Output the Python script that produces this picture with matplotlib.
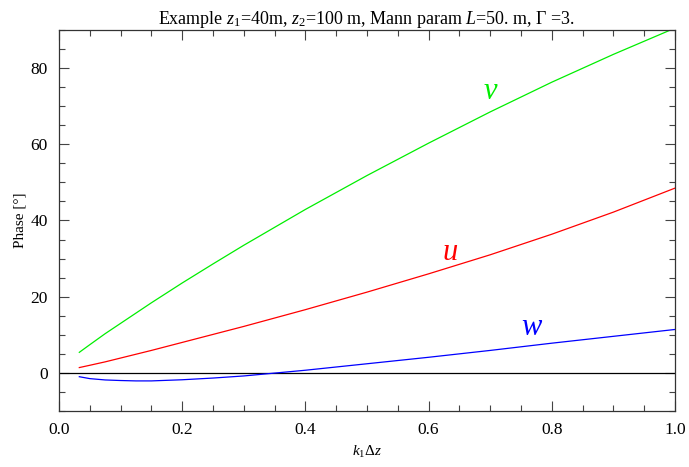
import numpy as np
import matplotlib.pyplot as plt
from matplotlib.ticker import MultipleLocator

plt.rcParams['font.family'] = 'Liberation Serif'
plt.rcParams['mathtext.fontset'] = 'custom'
plt.rcParams['mathtext.rm'] = 'Liberation Serif'
plt.rcParams['mathtext.it'] = 'Liberation Serif:italic'

# phase curves
k = [0.033, 0.05, 0.075, 0.1, 0.125, 0.15, 0.2, 0.25, 0.3, 0.4, 0.5, 0.6, 0.7, 0.8, 0.9, 1.0]
phase_u = [1.4, 2.0, 2.9, 3.9, 4.9, 5.9, 8.0, 10.1, 12.2, 16.6, 21.2, 26.0, 31.0, 36.4, 42.2, 48.5]
phase_v = [5.4, 7.4, 10.3, 13.0, 15.7, 18.4, 23.6, 28.6, 33.5, 42.9, 51.8, 60.3, 68.5, 76.3, 83.6, 90.5]
phase_w = [-1.0, -1.5, -1.85, -2.0, -2.1, -2.1, -1.8, -1.35, -0.8, 0.7, 2.4, 4.1, 5.9, 7.8, 9.6, 11.4]

fig = plt.figure(figsize=(6.89, 4.67), dpi=100)
ax = fig.add_axes([0.0856, 0.1199, 0.8941, 0.8159])

ax.axhline(0, color='k', lw=0.9)
ax.plot(k, phase_v, color='#00ee00', lw=0.9)
ax.plot(k, phase_u, color='#ff0000', lw=0.9)
ax.plot(k, phase_w, color='#0000ff', lw=0.9)

ax.text(0.701, 73.8, 'v', color='#00ee00', fontsize=22, style='italic', ha='center', va='center')
ax.text(0.635, 31.5, 'u', color='#ff0000', fontsize=22, style='italic', ha='center', va='center')
ax.text(0.767, 11.8, 'w', color='#0000ff', fontsize=22, style='italic', ha='center', va='center')

ax.set_xlim(0, 1)
ax.set_ylim(-10, 90)
ax.xaxis.set_major_locator(MultipleLocator(0.2))
ax.xaxis.set_minor_locator(MultipleLocator(0.05))
ax.yaxis.set_major_locator(MultipleLocator(20))
ax.yaxis.set_minor_locator(MultipleLocator(5))
ax.xaxis.set_major_formatter(plt.FuncFormatter(lambda v, p: '%.1f' % v))

ax.tick_params(which='both', direction='in', top=True, right=True, color='#444444', width=0.8)
ax.tick_params(which='major', length=7, labelsize=12.5, pad=8)
ax.tick_params(which='minor', length=4)
for s in ax.spines.values():
    s.set_color('#333333')
    s.set_linewidth(0.9)

ax.set_xlabel(r'$k_{\mathit{1}}\Delta z$', fontsize=11, labelpad=4)
ax.set_ylabel('Phase [°]', fontsize=11, labelpad=3)
ax.set_title(r'Example $z_{\mathit{1}}$=40m, $z_{\mathit{2}}$=100 m, Mann param $L$=50. m, Γ =3.',
             fontsize=13, pad=4)

fig.savefig('out.png', dpi=100)
